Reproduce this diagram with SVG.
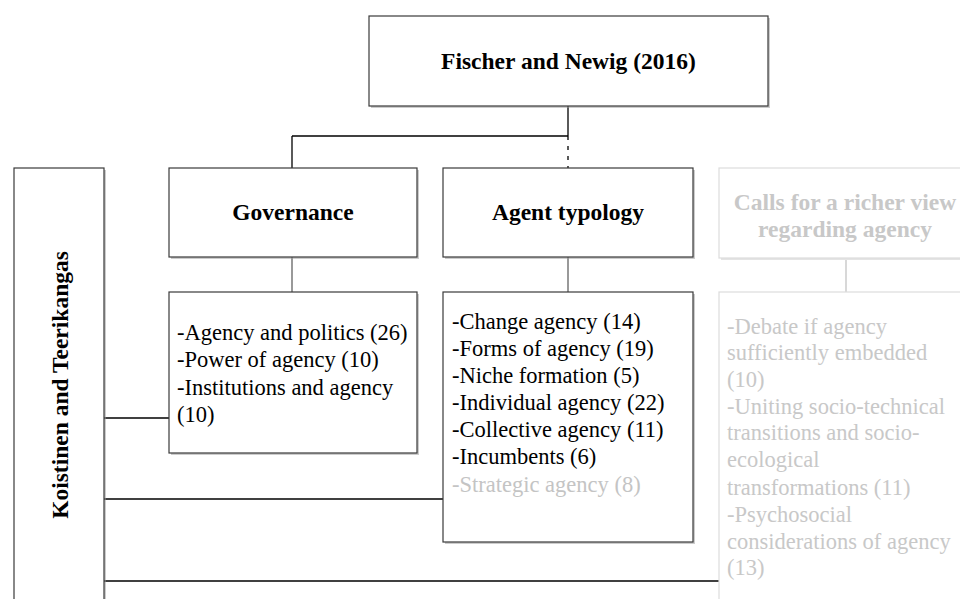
<svg xmlns="http://www.w3.org/2000/svg" width="960" height="599" viewBox="0 0 960 599">
<style>
  .box{fill:#fff;stroke:#3a3a3a;stroke-width:1.2}
  .sh{fill:#9a9a9a;opacity:0.5}
  .lbox{fill:#fff;stroke:#dcdcdc;stroke-width:1.2}
  .lsh{fill:#e4e4e4}
  .h{font-family:"Liberation Serif","Times New Roman",serif;font-weight:bold;font-size:23.5px;fill:#000}
  .t{font-family:"Liberation Serif","Times New Roman",serif;font-size:22.5px;fill:#000}
  .g{fill:#c4c4c4}
  .lh{fill:#c8c8c8}
  .c{stroke:#000;stroke-width:1.3;fill:none}
  .cg{stroke:#555;stroke-width:1.2;fill:none}
  .cl{stroke:#d8d8d8;stroke-width:2;fill:none}
</style>
<rect width="960" height="599" fill="#fff"/>
<g id="connectors">
  <line class="c" x1="568" y1="106" x2="568" y2="136"/>
  <line class="c" x1="568" y1="136" x2="568" y2="168" stroke-dasharray="4 6"/>
  <line class="c" x1="292" y1="136" x2="568" y2="136"/>
  <line class="c" x1="292" y1="136" x2="292" y2="168"/>
  <line class="cg" x1="292" y1="257" x2="292" y2="292"/>
  <line class="cg" x1="568" y1="257" x2="568" y2="292"/>
  <line class="cl" x1="846" y1="258" x2="846" y2="292"/>
  <line class="c" x1="104" y1="418" x2="169" y2="418"/>
  <line class="c" x1="104" y1="499" x2="443" y2="499"/>
  <line class="c" x1="104" y1="581" x2="719" y2="581"/>
</g>
<g id="fischer">
  <rect class="sh" x="371" y="18" width="399" height="90"/>
  <rect class="box" x="369" y="16" width="399" height="90"/>
  <text class="h" x="568.5" y="69" text-anchor="middle">Fischer and Newig (2016)</text>
</g>
<g id="koistinen">
  <rect class="sh" x="16" y="170" width="90" height="440"/>
  <rect class="box" x="14" y="168" width="90" height="440"/>
  <text class="h" transform="translate(68,385) rotate(-90)" text-anchor="middle">Koistinen and Teerikangas</text>
</g>
<g id="governance">
  <rect class="sh" x="171" y="170" width="248" height="89"/>
  <rect class="box" x="169" y="168" width="248" height="89"/>
  <text class="h" x="293" y="220" text-anchor="middle">Governance</text>
</g>
<g id="agent-typology">
  <rect class="sh" x="445" y="170" width="250" height="89"/>
  <rect class="box" x="443" y="168" width="250" height="89"/>
  <text class="h" x="568" y="220" text-anchor="middle">Agent typology</text>
</g>
<g id="calls">
  <rect class="lsh" x="721" y="170" width="260" height="90"/>
  <rect class="lbox" x="719" y="168" width="260" height="90"/>
  <text class="h lh" x="845" y="210" text-anchor="middle">Calls for a richer view</text>
  <text class="h lh" x="845" y="237" text-anchor="middle">regarding agency</text>
</g>
<g id="governance-details">
  <rect class="sh" x="171" y="294" width="248" height="161"/>
  <rect class="box" x="169" y="292" width="248" height="161"/>
  <text class="t" x="177" y="340">-Agency and politics (26)</text>
  <text class="t" x="177" y="367">-Power of agency (10)</text>
  <text class="t" x="177" y="395">-Institutions and agency</text>
  <text class="t" x="177" y="422">(10)</text>
</g>
<g id="agent-details">
  <rect class="sh" x="445" y="294" width="250" height="250"/>
  <rect class="box" x="443" y="292" width="250" height="250"/>
  <text class="t" x="452" y="329">-Change agency (14)</text>
  <text class="t" x="452" y="356">-Forms of agency (19)</text>
  <text class="t" x="452" y="383">-Niche formation (5)</text>
  <text class="t" x="452" y="410">-Individual agency (22)</text>
  <text class="t" x="452" y="437">-Collective agency (11)</text>
  <text class="t" x="452" y="464">-Incumbents (6)</text>
  <text class="t g" x="452" y="492">-Strategic agency (8)</text>
</g>
<g id="calls-details">
  <rect class="lbox" x="719" y="292" width="260" height="330"/>
  <text class="t lh" x="727" y="334">-Debate if agency</text>
  <text class="t lh" x="727" y="360">sufficiently embedded</text>
  <text class="t lh" x="727" y="387">(10)</text>
  <text class="t lh" x="727" y="414">-Uniting socio-technical</text>
  <text class="t lh" x="727" y="440">transitions and socio-</text>
  <text class="t lh" x="727" y="467">ecological</text>
  <text class="t lh" x="727" y="495">transformations (11)</text>
  <text class="t lh" x="727" y="522">-Psychosocial</text>
  <text class="t lh" x="727" y="549">considerations of agency</text>
  <text class="t lh" x="727" y="575">(13)</text>
</g>
</svg>
